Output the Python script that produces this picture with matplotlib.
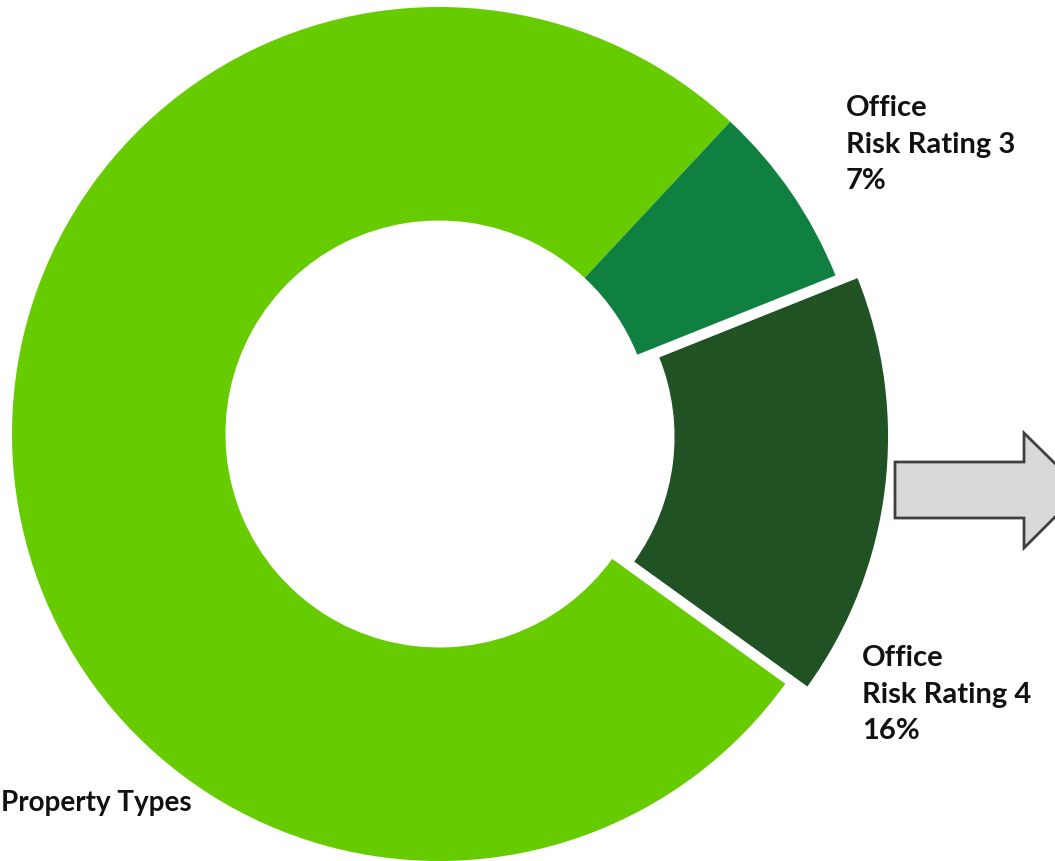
import matplotlib
matplotlib.use("Agg")
import matplotlib.pyplot as plt
from matplotlib.patches import Polygon

W, H = 1055, 861

# slice data (counter-clockwise from the 7% / other boundary)
labels = ["All Other Property Types", "Office\nRisk Rating 4", "Office\nRisk Rating 3"]
shares = [77, 16, 7]
colors = ["#66CC00", "#215223", "#0F8040"]
explode = [0, 0.052, 0]

INK = "#111111"
FONT = ["Lato", "DejaVu Sans"]


def px(x, y):
    # pixel position (from top-left) -> figure fraction
    return x / W, 1 - y / H


fig = plt.figure(figsize=(W / 100, H / 100), dpi=100, facecolor="white")

# donut: centre (439, 434) px, radius 427 px
cx, cy, R = 439, 434, 427
left, bottom = px(cx - R, cy + R)
ax = fig.add_axes([left, bottom, 2 * R / W, 2 * R / H])
ax.pie(shares, colors=colors, explode=explode, startangle=47, counterclock=True,
       radius=1, wedgeprops={"width": 0.5, "linewidth": 0})
ax.set_xlim(-1, 1)
ax.set_ylim(-1, 1)
ax.set_aspect("equal")
ax.axis("off")

# labels
txt = dict(fontweight="bold", color=INK, family=FONT, linespacing=1.5, va="top")
fig.text(*px(846, 95), f"{labels[2]}\n{shares[2]}%", ha="left", fontsize=21, **txt)
fig.text(*px(862, 645), f"{labels[1]}\n{shares[1]}%", ha="left", fontsize=21, **txt)
fig.text(*px(1, 790), "Property Types", ha="left", fontsize=20, **txt)

# block arrow pointing right
ov = fig.add_axes([0, 0, 1, 1], facecolor="none")
ov.set_xlim(0, W)
ov.set_ylim(H, 0)
ov.axis("off")
arrow = Polygon([(895, 462), (1024, 462), (1024, 433), (1082, 490),
                 (1024, 548), (1024, 518), (895, 518)],
                closed=True, facecolor="#D9D9D9", edgecolor="#404040", linewidth=2)
ov.add_patch(arrow)

fig.savefig("out.png", dpi=100, facecolor="white")
